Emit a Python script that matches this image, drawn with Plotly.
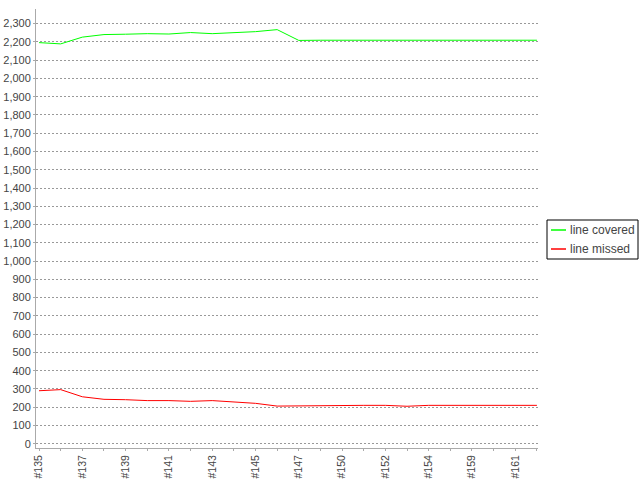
import plotly.graph_objects as go

builds = ["#135", "#136", "#137", "#138", "#139", "#140", "#141", "#142", "#143", "#144",
          "#145", "#146", "#147", "#149", "#150", "#151", "#152", "#153", "#154", "#157",
          "#159", "#160", "#161", "#162"]
shown_labels = ["#135", "#137", "#139", "#141", "#143", "#145", "#147", "#150", "#152",
                "#154", "#159", "#161"]
line_covered = [2196, 2189, 2226, 2240, 2242, 2245, 2243, 2251, 2245, 2249, 2256, 2267,
                2208, 2209, 2209, 2209, 2210, 2212, 2209, 2208, 2210, 2209, 2209, 2209]
line_missed = [290, 296, 257, 243, 241, 236, 236, 232, 236, 227, 221, 206,
               208, 210, 210, 210, 210, 205, 210, 210, 206, 210, 209, 210]
series_names = ["line covered", "line missed"]
series_colors = ["#00ff00", "#ff0000"]

W, H = 640, 480
ML, MR, MT, MB = 36, 102, 9, 32
PW, PH = W - ML - MR, H - MT - MB


def px_x(x):
    return (x - ML) / PW


def px_y(y):
    return (H - MB - y) / PH


fig = go.Figure()
for name, vals, col in zip(series_names, [line_covered, line_missed], series_colors):
    fig.add_trace(go.Scatter(x=builds, y=vals, mode="lines", name=name,
                             line=dict(color=col, width=1), showlegend=False,
                             hoverinfo="skip"))

ticktext = [b if b in shown_labels else "" for b in builds]

# custom legend box (matches the compact reference legend)
shapes = [dict(type="rect", xref="paper", yref="paper",
               x0=px_x(547), x1=px_x(638), y0=px_y(259), y1=px_y(220),
               line=dict(color="black", width=1), fillcolor="white", layer="above")]
annotations = []
for i, (name, col) in enumerate(zip(series_names, series_colors)):
    yy = 230 + 19 * i
    shapes.append(dict(type="line", xref="paper", yref="paper",
                       x0=px_x(551), x1=px_x(566), y0=px_y(yy), y1=px_y(yy),
                       line=dict(color=col, width=1.5), layer="above"))
    annotations.append(dict(xref="paper", yref="paper", x=px_x(568), y=px_y(yy),
                            text=name, showarrow=False, xanchor="left", yanchor="middle",
                            font=dict(size=12, color="#444")))

fig.update_layout(
    width=W, height=H,
    margin=dict(l=ML, r=MR, t=MT, b=MB, autoexpand=False),
    plot_bgcolor="white", paper_bgcolor="white",
    font=dict(family="Liberation Sans, Arial, sans-serif", size=11, color="#444"),
    showlegend=False,
    shapes=shapes,
    annotations=annotations,
    xaxis=dict(type="category", range=[-0.14, 23.05], tickvals=builds, ticktext=ticktext,
               tickangle=-90, ticks="outside", ticklen=2, tickcolor="#aaa",
               showgrid=False, showline=True, linecolor="#aaa", linewidth=1,
               zeroline=False, automargin=False, tickfont=dict(size=10.5, color="#444")),
    yaxis=dict(range=[-23.5, 2380], dtick=100, tick0=0, tickformat=",",
               showgrid=True, gridcolor="#999", griddash="2px,2px", gridwidth=1,
               showline=True, linecolor="#aaa", linewidth=1, zeroline=False,
               ticks="outside", ticklen=2, tickcolor="#aaa", automargin=False,
               tickfont=dict(size=11, color="#444")),
)

fig.write_html("out.html", post_script="document.body.style.margin='0';",
               config={"displayModeBar": False})
